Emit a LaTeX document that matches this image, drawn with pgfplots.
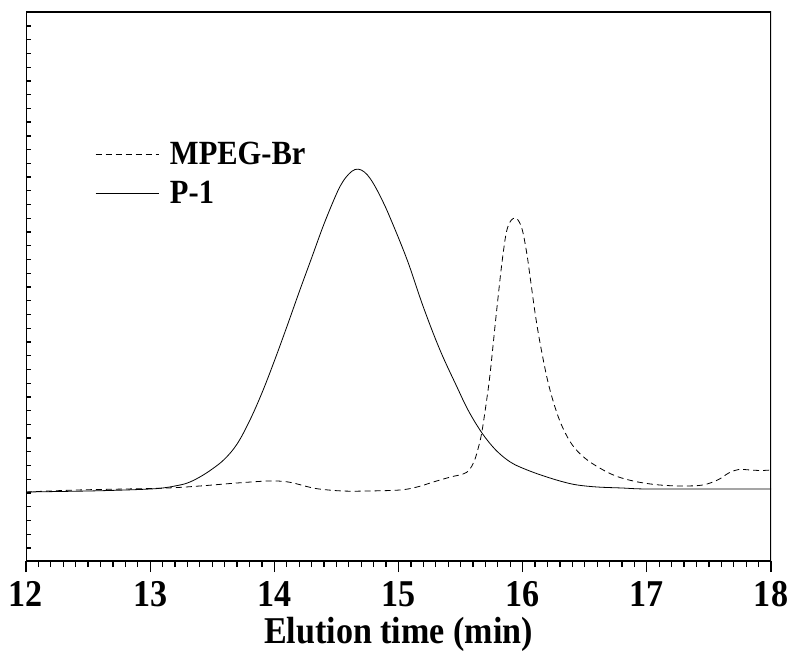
\documentclass[border=0pt]{standalone}
\usepackage{fontspec}
\setmainfont{Liberation Serif}[FakeStretch=0.9]
\usepackage{pgfplots}
\pgfplotsset{compat=1.18}
\begin{document}
\begin{tikzpicture}
\begin{axis}[
  scale only axis, width=745bp, height=549bp,
  xmin=12, xmax=18, ymin=0, ymax=549,
  axis line style={draw=none},
  xtick={12,13,14,15,16,17,18},
  minor x tick num=9,
  xtick pos=bottom, tick align=outside,
  major tick length=11bp, minor tick length=6bp,
  tick style={line width=1.3bp, black},
  ytick=\empty,
  /pgf/number format/assume math mode=true,
  ticklabel style={font=\fontsize{38}{38}\selectfont\bfseries},
  xticklabel style={anchor=north, inner sep=0pt},
  xticklabel={\raisebox{0pt}[\dimexpr\height+9bp\relax]{\pgfmathprintnumber{\tick}}},
  xlabel={Elution time (min)},
  every axis x label/.style={at={(rel axis cs:0.5,0)}, anchor=base, yshift=-82bp,
     font=\fontsize{38}{38}\selectfont\bfseries},
  legend style={draw=none, fill=none, inner sep=0pt, at={(rel axis cs:0.0926,0.767)}, anchor=north west,
     font=\fontsize{34}{34}\selectfont\bfseries, row sep=11bp, nodes={inner sep=2bp}},
  legend cell align=left,
  legend image code/.code={\draw[#1] (0bp,0bp) -- (63bp,0bp); \path (72bp,0bp);},
]
\addplot[black, line width=0.8bp, dash pattern=on 6bp off 4bp, smooth, tension=0.6] coordinates {
(12.00,69) (12.41,71) (12.8,72) (13.14,73) (13.40,75) (13.70,78) (13.95,80) (14.08,79.5) (14.17,77.5) (14.26,74.5)
(14.36,72) (14.55,70) (14.75,70) (15.01,71) (15.15,74) (15.28,79) (15.42,84) (15.52,87) (15.57,91)
(15.61,100) (15.64,112) (15.67,128) (15.71,161) (15.74,190) (15.79,250) (15.84,305) (15.88,334)
(15.938,343) (15.99,334) (16.03,310) (16.06,284) (16.10,248) (16.14,218) (16.20,181) (16.26,154) (16.32,134)
(16.40,116) (16.50,103) (16.62,93) (16.75,85) (16.89,80) (17.03,77) (17.16,75.5) (17.30,75) (17.45,76) (17.57,81)
(17.66,88) (17.74,91.5) (17.83,91) (17.92,90.5) (18.00,91)
};
\addlegendentry{MPEG-Br}
\addplot[black, line width=0.8bp, smooth, tension=0.6] coordinates {
(12.0,69) (12.5,70) (12.8,71) (13.0,72) (13.1,73) (13.2,75) (13.3,78) (13.4,84) (13.5,92) (13.6,102) (13.7,117)
(13.8,140) (13.9,168) (14.0,200) (14.1,234) (14.2,269) (14.3,303) (14.4,337) (14.5,367) (14.55,379)
(14.6,387) (14.65,391.5) (14.7,391) (14.75,386) (14.8,377) (14.86,363) (14.93,344) (15.07,301) (15.20,254)
(15.334,211) (15.471,174) (15.56,151) (15.656,131) (15.74,117) (15.817,107) (15.90,99) (15.978,94) (16.10,88) (16.22,83) (16.33,79) (16.44,76)
(16.6,74) (16.8,73) (17.0,72) (17.5,72) (18.0,72)
};
\addlegendentry{P-1}
\draw[line width=2.2bp] (rel axis cs:0,0) rectangle (rel axis cs:1,1);
\end{axis}
\begin{axis}[
  scale only axis, width=745bp, height=549bp,
  xmin=12, xmax=18, ymin=0, ymax=549,
  axis line style={draw=none},
  xtick=\empty,
  ytick={13,26.737,...,536}, yticklabels={},
  ytick pos=left, tick align=inside,
  major tick length=4.5bp,
  tick style={line width=1.3bp, black},
]
\end{axis}
\pgfresetboundingbox
\useasboundingbox (-26bp,-92bp) rectangle (769bp,561bp);
\end{tikzpicture}
\end{document}
